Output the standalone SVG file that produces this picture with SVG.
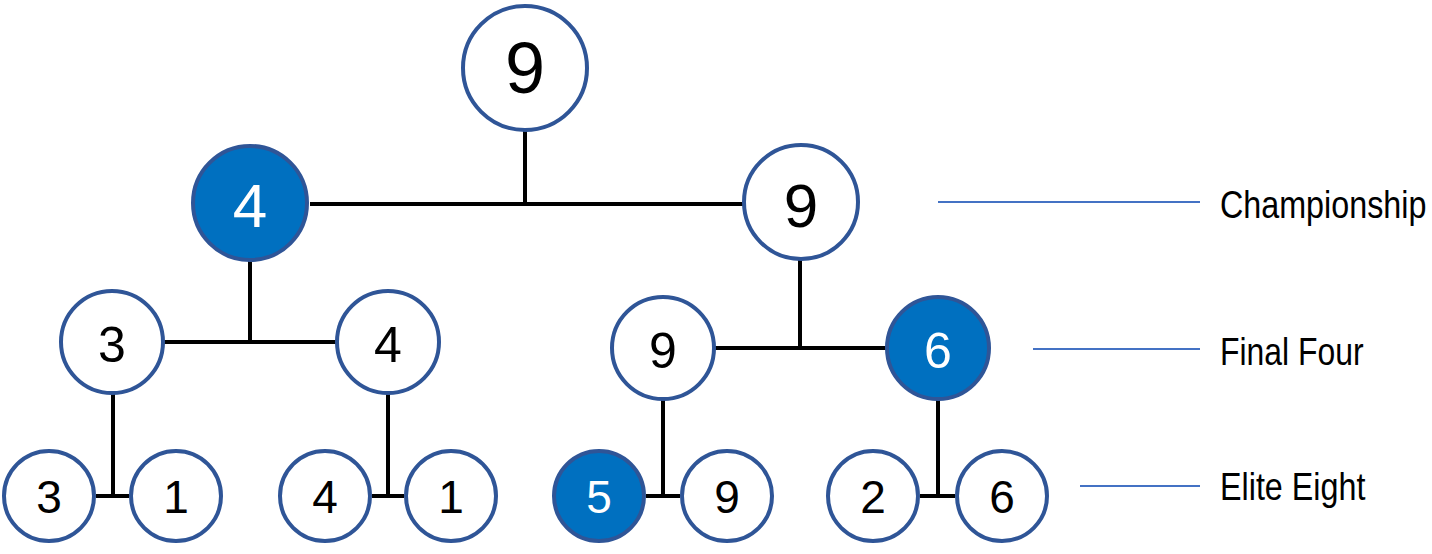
<svg xmlns="http://www.w3.org/2000/svg" width="1432" height="554" viewBox="0 0 1432 554">
<style>
.n{fill:#ffffff;stroke:#2f5597;stroke-width:4}
.w{fill:#0070c0;stroke:#2f5597;stroke-width:4}
.t{font-family:"Liberation Sans Narrow","Liberation Sans",Arial,sans-serif;text-anchor:middle;fill:#000}
.tw{fill:#ffffff}
.c{stroke:#000;stroke-width:4;fill:none}
.l{stroke:#4472c4;stroke-width:2}
.lab{font-family:"Liberation Sans Narrow","Liberation Sans",Arial,sans-serif;font-size:38px;fill:#000}
</style>
<rect width="1432" height="554" fill="#ffffff"/>
<g id="connectors">
<path class="c" d="M525 130V204M310 204H743"/>
<path class="c" d="M250 261V342M164 342H336"/>
<path class="c" d="M800 260V348M715 348H886"/>
<path class="c" d="M113 394V496M96 496H129"/>
<path class="c" d="M388 394V496M372 496H404"/>
<path class="c" d="M663 400V496M646 496H680"/>
<path class="c" d="M938 400V496M920 496H955"/>
</g>
<g id="legend-lines">
<line class="l" x1="938" y1="202" x2="1200" y2="202"/>
<line class="l" x1="1033" y1="349" x2="1200" y2="349"/>
<line class="l" x1="1080" y1="486" x2="1200" y2="486"/>
</g>
<g id="node-root"><circle class="n" cx="525" cy="68" r="62"/><text class="t" x="525" y="93" font-size="72">9</text></g>
<g id="node-c1"><circle class="w" cx="250" cy="203" r="57"/><text class="t tw" x="250" y="227" font-size="62">4</text></g>
<g id="node-c2"><circle class="n" cx="801" cy="202" r="57"/><text class="t" x="801" y="227" font-size="62">9</text></g>
<g id="node-f1"><circle class="n" cx="112" cy="342" r="51"/><text class="t" x="112" y="362" font-size="50">3</text></g>
<g id="node-f2"><circle class="n" cx="388" cy="342" r="51"/><text class="t" x="388" y="362" font-size="50">4</text></g>
<g id="node-f3"><circle class="n" cx="663" cy="348" r="51"/><text class="t" x="663" y="368" font-size="50">9</text></g>
<g id="node-f4"><circle class="w" cx="938" cy="348" r="51"/><text class="t tw" x="938" y="368" font-size="50">6</text></g>
<g id="node-e1"><circle class="n" cx="49" cy="496" r="45"/><text class="t" x="49" y="513" font-size="46">3</text></g>
<g id="node-e2"><circle class="n" cx="176" cy="496" r="45"/><text class="t" x="176" y="513" font-size="46">1</text></g>
<g id="node-e3"><circle class="n" cx="325" cy="496" r="45"/><text class="t" x="325" y="513" font-size="46">4</text></g>
<g id="node-e4"><circle class="n" cx="451" cy="496" r="45"/><text class="t" x="451" y="513" font-size="46">1</text></g>
<g id="node-e5"><circle class="w" cx="599" cy="496" r="45"/><text class="t tw" x="599" y="513" font-size="46">5</text></g>
<g id="node-e6"><circle class="n" cx="727" cy="496" r="45"/><text class="t" x="727" y="513" font-size="46">9</text></g>
<g id="node-e7"><circle class="n" cx="873" cy="496" r="45"/><text class="t" x="873" y="513" font-size="46">2</text></g>
<g id="node-e8"><circle class="n" cx="1002" cy="496" r="45"/><text class="t" x="1002" y="513" font-size="46">6</text></g>
<g id="labels">
<text class="lab" transform="translate(1220 218) scale(0.85 1)">Championship</text>
<text class="lab" transform="translate(1220 365) scale(0.84 1)">Final Four</text>
<text class="lab" transform="translate(1220 500) scale(0.85 1)">Elite Eight</text>
</g>
</svg>
